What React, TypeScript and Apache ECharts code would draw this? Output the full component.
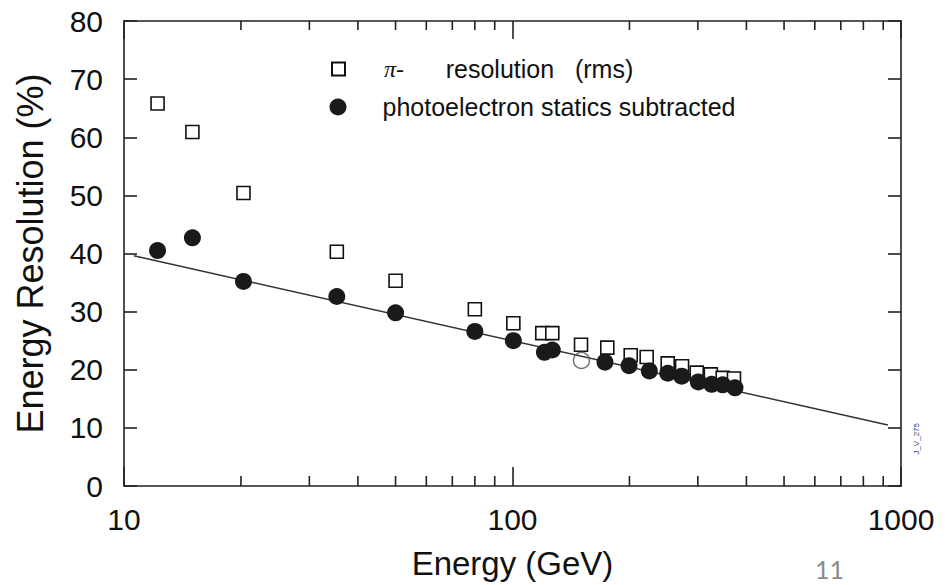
import React, { useEffect, useRef } from "react";
import * as echarts from "echarts";

// Open squares: pi- resolution (rms)
const squareEnergy = [12.2, 15.0, 20.3, 35.3, 50.0, 80.0, 100.5, 119.3, 126.6, 150.1, 175.4, 201.5, 221.5, 250.9, 273.2, 298, 324, 347.6, 371.6];
const squareRes = [65.8, 60.9, 50.4, 40.3, 35.3, 30.4, 28.0, 26.3, 26.3, 24.3, 23.8, 22.5, 22.2, 21.1, 20.6, 19.5, 19.2, 18.6, 18.5];

// Filled circles: photoelectron statistics subtracted
const circleEnergy = [12.2, 15.0, 20.3, 35.3, 50.0, 80.0, 100.5, 120.8, 126.6, 173, 199.5, 225, 251, 272.6, 300.8, 325.6, 347.6, 373.8];
const circleRes = [40.5, 42.7, 35.2, 32.6, 29.8, 26.6, 25.0, 23.0, 23.4, 21.3, 20.7, 19.8, 19.4, 18.9, 17.9, 17.5, 17.4, 16.9];

// Open circle
const openCircleEnergy = [150.5];
const openCircleRes = [21.6];

// Fit line end points
const fitEnergy = [10.6, 925];
const fitRes = [39.6, 10.5];

// Minor log ticks on the energy axis
const minorTickValues = [20, 30, 40, 50, 60, 70, 80, 90, 200, 300, 400, 500, 600, 700, 800, 900];

const squareName = "π- resolution (rms)";
const circleName = "photoelectron statics subtracted";

const FONT = "'Liberation Sans', Arial, Helvetica, sans-serif";

export default function App() {
  const ref = useRef<HTMLDivElement>(null);

  useEffect(() => {
    if (!ref.current) return;
    const chart = echarts.init(ref.current, undefined, { renderer: "svg" });

    const zip = (xs: number[], ys: number[]) => xs.map((x, i) => [x, ys[i]]);

    const axisLine = { show: true, onZero: false, lineStyle: { color: "#222", width: 1.6 } };

    const option: any = {
      animation: false,
      backgroundColor: "#ffffff",
      grid: { left: 124, right: 44, top: 21, bottom: 97, containLabel: false },
      legend: [
        {
          data: [squareName],
          left: 331,
          top: 54,
          padding: 0,
          orient: "vertical",
          itemWidth: 13,
          itemHeight: 13,
          selectedMode: false,
          formatter: () => "{gap|}{pi|π-}{t|      resolution   (rms)}",
          textStyle: {
            fontFamily: FONT,
            fontSize: 25,
            color: "#111",
            lineHeight: 30,
            rich: {
              gap: { width: 34 },
              pi: { fontFamily: "'Liberation Serif', 'DejaVu Serif', serif", fontSize: 24, fontStyle: "italic", color: "#111" },
              t: { fontFamily: FONT, fontSize: 25, color: "#111" },
            },
          },
        },
        {
          data: [circleName],
          left: 329.5,
          top: 92,
          padding: 0,
          orient: "vertical",
          itemWidth: 17,
          itemHeight: 17,
          selectedMode: false,
          formatter: () => "{gap|}{t|photoelectron statics subtracted}",
          textStyle: {
            fontFamily: FONT,
            fontSize: 25,
            color: "#111",
            lineHeight: 30,
            rich: {
              gap: { width: 31 },
              t: { fontFamily: FONT, fontSize: 25, color: "#111" },
            },
          },
        },
      ],
      xAxis: [
        {
          type: "log",
          logBase: 10,
          min: 10,
          max: 1000,
          position: "bottom",
          name: "Energy (GeV)",
          nameLocation: "middle",
          nameGap: 61,
          nameTextStyle: { fontFamily: FONT, fontSize: 33, color: "#111" },
          axisLine,
          axisTick: { show: true, inside: true, length: 19, lineStyle: { color: "#222", width: 1.6 } },
          axisLabel: {
            fontFamily: FONT,
            fontSize: 30,
            color: "#111",
            margin: 18,
            formatter: (v: number) => String(Math.round(v)),
          },
          splitLine: { show: false },
          minorTick: { show: false },
        },
        {
          type: "log",
          logBase: 10,
          min: 10,
          max: 1000,
          position: "top",
          axisLine,
          axisTick: { show: true, inside: true, length: 18, lineStyle: { color: "#222", width: 1.6 } },
          axisLabel: { show: false },
          splitLine: { show: false },
        },
      ],
      yAxis: [
        {
          type: "value",
          min: 0,
          max: 80,
          interval: 10,
          position: "left",
          name: "Energy Resolution (%)",
          nameLocation: "middle",
          nameGap: 76,
          nameTextStyle: { fontFamily: FONT, fontSize: 36, color: "#111" },
          axisLine,
          axisTick: { show: true, inside: true, length: 13, lineStyle: { color: "#222", width: 1.6 } },
          axisLabel: { fontFamily: FONT, fontSize: 30, color: "#111", margin: 21 },
          splitLine: { show: false },
        },
        {
          type: "value",
          min: 0,
          max: 80,
          interval: 10,
          position: "right",
          axisLine,
          axisTick: { show: true, inside: true, length: 13, lineStyle: { color: "#222", width: 1.6 } },
          axisLabel: { show: false },
          splitLine: { show: false },
        },
      ],
      series: [
        {
          type: "custom",
          name: "minorTicks",
          silent: true,
          xAxisIndex: 0,
          yAxisIndex: 0,
          clip: false,
          data: minorTickValues.map((v) => [v, 0]),
          renderItem: (params: any, api: any) => {
            const x = api.value(0);
            const b = api.coord([x, 0]);
            const t = api.coord([x, 80]);
            const style = { stroke: "#222", lineWidth: 1.6 };
            return {
              type: "group",
              children: [
                { type: "line", shape: { x1: b[0], y1: b[1], x2: b[0], y2: b[1] - 10 }, style },
                { type: "line", shape: { x1: t[0], y1: t[1], x2: t[0], y2: t[1] + 9 }, style },
              ],
            };
          },
        },
        {
          type: "line",
          name: "fit",
          data: zip(fitEnergy, fitRes),
          symbol: "none",
          lineStyle: { color: "#333", width: 1.5 },
          silent: true,
          z: 1,
        },
        {
          type: "scatter",
          name: squareName,
          data: zip(squareEnergy, squareRes),
          symbol: "rect",
          symbolSize: 13,
          itemStyle: { color: "#ffffff", borderColor: "#111", borderWidth: 1.6, opacity: 1 },
          z: 2,
        },
        {
          type: "scatter",
          name: "open",
          data: zip(openCircleEnergy, openCircleRes),
          symbol: "circle",
          symbolSize: 16,
          itemStyle: { color: "rgba(255,255,255,0)", borderColor: "#555", borderWidth: 1.5 },
          z: 3,
        },
        {
          type: "scatter",
          name: circleName,
          data: zip(circleEnergy, circleRes),
          symbol: "circle",
          symbolSize: 17,
          itemStyle: { color: "#1a1a1a", opacity: 1 },
          z: 4,
        },
      ],
      graphic: [
        {
          type: "text",
          left: 912,
          top: 423,
          rotation: Math.PI / 2,
          style: { text: "J_V_275", fontFamily: FONT, fontSize: 8, fill: "#2f3d74" },
        },
        {
          type: "text",
          left: 815,
          top: 556,
          style: { text: "11", fontFamily: "Lato, 'Open Sans', sans-serif", fontSize: 25, fill: "#8a8a8a" },
        },
      ],
    };

    chart.setOption(option);
    return () => chart.dispose();
  }, []);

  return (
    <div
      ref={ref}
      style={{ position: "absolute", left: 0, top: 0, width: 945, height: 585, background: "#fff" }}
    />
  );
}
